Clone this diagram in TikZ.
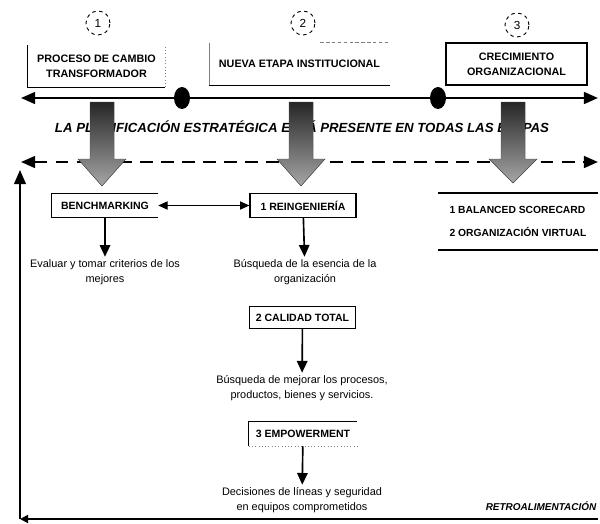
\documentclass[tikz,border=0pt]{standalone}
\usepackage{fontspec}
\setmainfont{Liberation Sans}
\usetikzlibrary{arrows.meta,positioning,shapes.geometric}
\begin{document}
\begin{tikzpicture}[x=0.03cm,y=-0.03cm,
  num/.style = {draw, circle, dashed, thick, minimum size=0.72cm, inner sep=0pt, font=\fontsize{10}{12}\selectfont},
  stage/.style = {align=center, inner sep=0pt, minimum height=1.26cm, font=\fontsize{9.2}{13}\selectfont\bfseries},
  tool/.style = {align=center, inner sep=0pt, minimum width=3.18cm, minimum height=0.72cm, font=\fontsize{9}{11}\selectfont\bfseries},
  desc/.style = {align=center, inner sep=2pt, font=\fontsize{9.3}{13}\selectfont},
  heading/.style = {font=\fontsize{11.3}{13}\selectfont\bfseries\itshape},
  dot/.style = {ellipse, fill, minimum width=0.48cm, minimum height=0.66cm, inner sep=0pt},
  mainline/.style = {line width=2pt},
  edge/.style = {line width=1pt},
  down/.style = {line width=1.4pt, -{Triangle[length=10pt,width=9pt]}},
  block/.style = {draw=black!70, top color=black!85, bottom color=black!35}]
\useasboundingbox (0,0) rectangle (600,523);

\node[num] (n1) at (98,23) {1};
\node[num] (n2) at (303,23) {2};
\node[num] (n3) at (517,25) {3};

\node[stage, minimum width=4.11cm] (b1) at (96.5,66) {PROCESO DE CAMBIO\\TRANSFORMADOR};
\node[stage, minimum width=5.43cm] (b2) at (299.5,64) {NUEVA ETAPA INSTITUCIONAL};
\node[stage, minimum width=4.23cm, draw, edge] (b3) at (516.5,64) {CRECIMIENTO\\ORGANIZACIONAL};
\draw[edge] (b1.north west) -- (b1.south west) -- (b1.south east);
\draw[dotted, thick, gray] (b1.south east) -- (b1.north east);
\draw[gray] (b2.north west) -- (b2.south west);
\draw[edge] (b2.south west) -- (b2.south east);
\draw[densely dashed, gray, thick] ([xshift=-2.1cm]b2.north east) -- (b2.north east);

\coordinate (sl) at (21,98);
\coordinate (sr) at (598,98);
\coordinate (dl) at (21,162);
\coordinate (dr) at (598,162);
\draw[mainline, {Triangle[length=12pt,width=10pt]}-{Triangle[length=12pt,width=10pt]}] (sl) -- (sr);
\draw[mainline, dash pattern=on 11pt off 7pt, {Triangle[length=12pt,width=10pt]}-{Triangle[length=12pt,width=10pt]}] (dl) -- (dr);
\node[dot] (p1) at (182,98) {};
\node[dot] (p2) at (438,98) {};

\node[heading] (plan) at (302,127) {LA PLANIFICACIÓN ESTRATÉGICA ESTÁ PRESENTE EN TODAS LAS ETAPAS};

\foreach \x/\t in {102/186, 301/186, 513/183}
  \filldraw[block] (\x-12,102) -- (\x+12,102) -- (\x+12,159) -- (\x+24,159)
    -- (\x,\t) -- (\x-24,159) -- (\x-12,159) -- cycle;

\node[tool] (bench) at (105,205.5) {BENCHMARKING};
\node[tool, draw, edge] (rein) at (303,205.5) {1 REINGENIERÍA};
\node[tool, draw, edge, minimum height=0.66cm] (cal) at (302.5,317.5) {2 CALIDAD TOTAL};
\node[tool, minimum width=3.24cm] (emp) at (303,434) {3 EMPOWERMENT};
\draw[edge] (bench.north east) -- (bench.north west) -- (bench.south west) -- (bench.south east);
\draw[edge] (emp.south west) -- (emp.north west) -- (emp.north east);
\draw[dotted, thick, gray] (emp.south west) -- (emp.south east);

\node[minimum width=4.8cm, minimum height=1.71cm, inner sep=0pt] (bsc) at (518,221.5) {};
\node[align=left, font=\fontsize{8.8}{19}\selectfont\bfseries] (bsct) at (bsc) {1 BALANCED SCORECARD\\2 ORGANIZACIÓN VIRTUAL};
\draw[line width=1.5pt] (bsc.north west) -- (bsc.north east);
\draw[line width=1.5pt] (bsc.south west) -- (bsc.south east);

\node[desc] (d1) at (105,272) {Evaluar y tomar criterios de los\\mejores};
\node[desc] (d2) at (305,272) {Búsqueda de la esencia de la\\organización};
\node[desc] (d3) at (302,388) {Búsqueda de mejorar los procesos,\\productos, bienes y servicios.};
\node[desc] (d4) at (302,500) {Decisiones de líneas y seguridad\\en equipos comprometidos};

\draw[line width=1pt, {Triangle[length=8pt,width=7pt]}-{Triangle[length=8pt,width=7pt]}] (bench) -- (rein);
\draw[down] (bench) -- (d1);
\draw[down] (rein) -- (d2);
\draw[down] (cal) -- (d3);
\draw[down] (emp) -- (d4);

\node[heading, font=\fontsize{8.5}{10}\selectfont\bfseries\itshape] (retro) at (541,506) {RETROALIMENTACIÓN};

\coordinate (fbr) at (598,519);
\coordinate (fbc) at (20,519);
\coordinate (fbt) at (20,170);
\draw[line width=1.5pt, -{Triangle[length=7pt,width=7pt]}] (fbr) -- (fbc);
\draw[line width=1.5pt, -{Triangle[length=12pt,width=10pt]}] (fbc) -- (fbt);
\end{tikzpicture}
\end{document}
